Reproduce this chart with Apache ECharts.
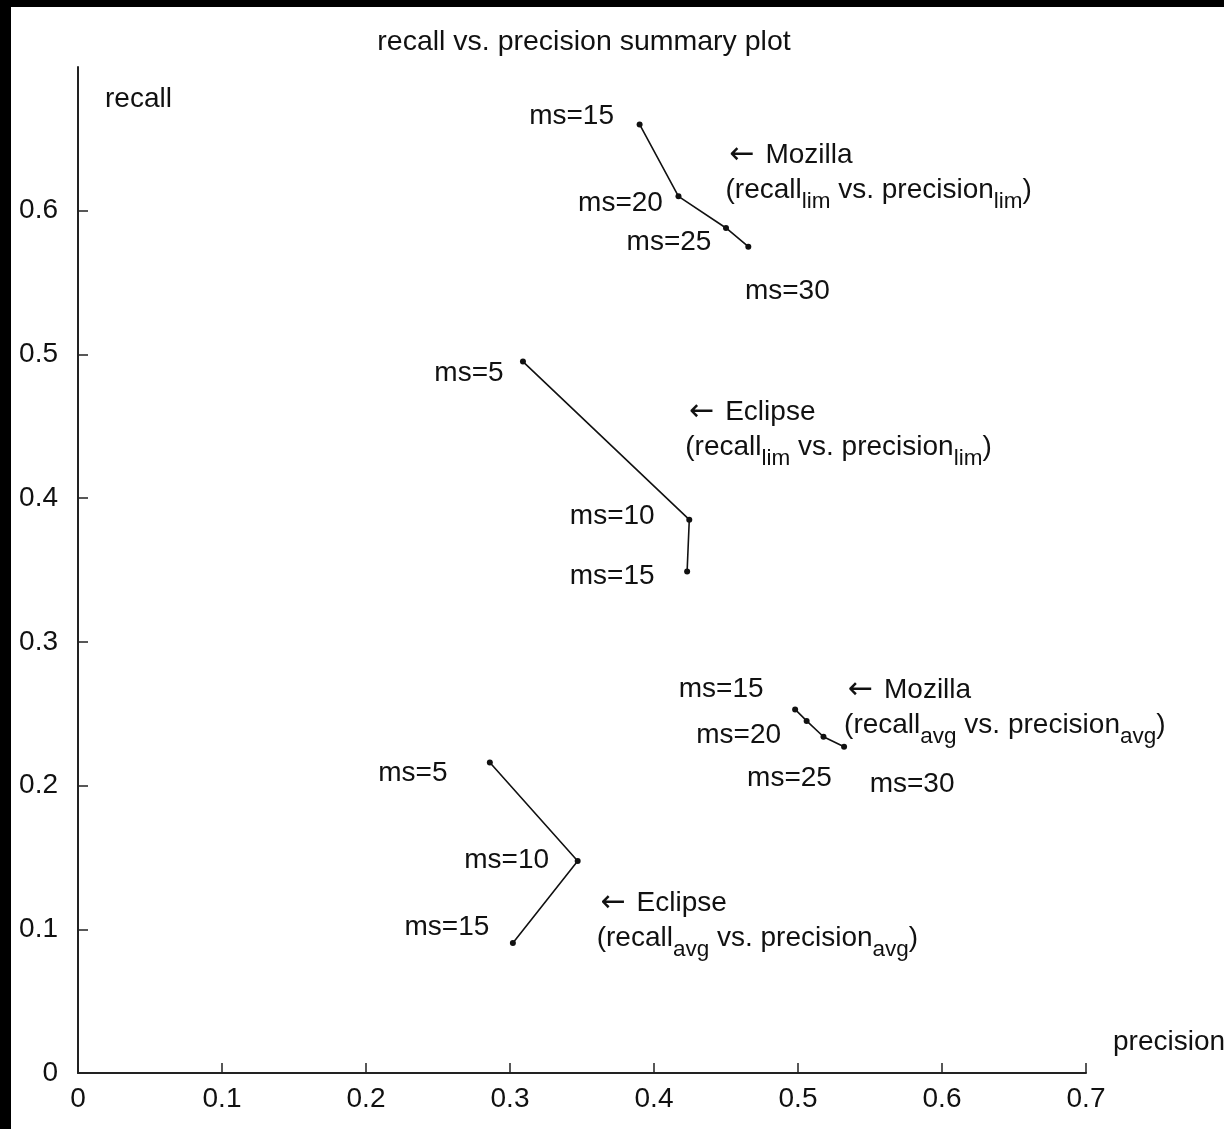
<!DOCTYPE html>
<html>
<head>
<meta charset="utf-8">
<script src="https://cdn.jsdelivr.net/npm/echarts@6/dist/echarts.min.js"></script>
<style>
  html, body { margin: 0; padding: 0; background: #000; }
  #c { position: absolute; left: 11px; top: 7px; width: 1213px; height: 1122px; background: #fff; }
</style>
</head>
<body>
<div id="c"></div>
<script>
// ---------- data ----------
const precisionTicks = [0, 0.1, 0.2, 0.3, 0.4, 0.5, 0.6, 0.7];
const recallTicks = [0, 0.1, 0.2, 0.3, 0.4, 0.5, 0.6];

const mozLimMs = [15, 20, 25, 30];
const mozLimPrecision = [0.390, 0.417, 0.450, 0.4655];
const mozLimRecall = [0.660, 0.610, 0.588, 0.575];

const eclLimMs = [5, 10, 15];
const eclLimPrecision = [0.309, 0.4245, 0.423];
const eclLimRecall = [0.495, 0.385, 0.349];

const mozAvgMs = [15, 20, 25, 30];
const mozAvgPrecision = [0.498, 0.506, 0.5177, 0.532];
const mozAvgRecall = [0.253, 0.245, 0.234, 0.227];

const eclAvgMs = [5, 10, 15];
const eclAvgPrecision = [0.286, 0.347, 0.302];
const eclAvgRecall = [0.216, 0.1475, 0.0905];

// ---------- styling / label placement (pixels) ----------
const FONT = "'Liberation Sans', Arial, Helvetica, sans-serif";
const FS = 28;
const INK = '#111';

const groups = [
  { name: 'Mozilla lim', ms: mozLimMs, x: mozLimPrecision, y: mozLimRecall,
    offsets: [[-68, -8], [-58, 7], [-57, 14], [39, 45]],
    anno: { head: 'Mozilla', sub: 'lim', at: 1, offset: [47, -24] } },
  { name: 'Eclipse lim', ms: eclLimMs, x: eclLimPrecision, y: eclLimRecall,
    offsets: [[-54, 12], [-77, -3], [-75, 5]],
    anno: { head: 'Eclipse', sub: 'lim', at: 1, offset: [-4, -90] } },
  { name: 'Mozilla avg', ms: mozAvgMs, x: mozAvgPrecision, y: mozAvgRecall,
    offsets: [[-74, -20], [-68, 14], [-34, 42], [68, 38]],
    anno: { head: 'Mozilla', sub: 'avg', at: 3, offset: [0, -39] } },
  { name: 'Eclipse avg', ms: eclAvgMs, x: eclAvgPrecision, y: eclAvgRecall,
    offsets: [[-77, 11], [-71, -1], [-66, -16]],
    anno: { head: 'Eclipse', sub: 'avg', at: 1, offset: [19, 60] } }
];

const series = [];
groups.forEach(g => {
  series.push({
    name: g.name,
    type: 'line',
    data: g.x.map((px, i) => ({
      value: [px, g.y[i]],
      label: { offset: g.offsets[i] }
    })),
    symbol: 'circle',
    symbolSize: 6,
    showSymbol: true,
    lineStyle: { color: INK, width: 1.6 },
    itemStyle: { color: INK },
    label: {
      show: true,
      position: 'inside',
      align: 'center',
      verticalAlign: 'middle',
      fontFamily: FONT,
      fontSize: FS,
      color: INK,
      formatter: p => 'ms=' + g.ms[p.dataIndex]
    },
    emphasis: { disabled: true },
    animation: false,
    z: 3
  });
  const a = g.anno;
  series.push({
    name: g.name + ' note',
    type: 'scatter',
    data: [[g.x[a.at], g.y[a.at]]],
    symbolSize: 1,
    itemStyle: { color: 'rgba(0,0,0,0)', opacity: 1 },
    label: {
      show: true,
      position: 'inside',
      align: 'left',
      verticalAlign: 'middle',
      offset: a.offset,
      fontFamily: FONT,
      color: INK,
      opacity: 1,
      formatter: () => '{a|←}{t| ' + a.head + '}\n{u|(recall}{s|' + a.sub + '}{u| vs. precision}{s|' + a.sub + '}{u|)}',
      rich: {
        a: { fontFamily: "'DejaVu Sans', sans-serif", fontSize: 30, lineHeight: 35, color: INK, verticalAlign: 'middle', padding: [0, 3, 0, 4] },
        t: { fontFamily: FONT, fontSize: FS, lineHeight: 35, color: INK, verticalAlign: 'middle' },
        u: { fontFamily: FONT, fontSize: FS, lineHeight: 35, color: INK, verticalAlign: 'middle' },
        s: { fontFamily: FONT, fontSize: 22.5, height: 22, lineHeight: 22, padding: [18, 0, 0, 0], color: INK, verticalAlign: 'top' }
      }
    },
    emphasis: { disabled: true },
    silent: true,
    animation: false,
    z: 4
  });
});

const chart = echarts.init(document.getElementById('c'), null, { renderer: 'canvas' });
chart.setOption({
  backgroundColor: '#fff',
  animation: false,
  title: {
    text: 'recall vs. precision summary plot',
    left: 568,
    top: 16,
    textAlign: 'center',
    textStyle: { fontFamily: FONT, fontSize: 28.5, fontWeight: 'normal', color: INK }
  },
  grid: { left: 67, right: 138, top: 60, bottom: 56, containLabel: false, outerBoundsMode: 'none' },
  xAxis: {
    type: 'value',
    min: 0, max: 0.7, interval: 0.1,
    name: 'precision',
    nameLocation: 'end',
    nameGap: 27,
    nameTextStyle: { fontFamily: FONT, fontSize: FS, color: INK, align: 'left', verticalAlign: 'bottom', padding: [0, 0, 17, 0] },
    axisLine: { show: true, onZero: false, lineStyle: { color: '#222', width: 2 } },
    axisTick: { show: true, inside: true, length: 10, lineStyle: { color: '#222', width: 1.5 } },
    axisLabel: { margin: 12, fontFamily: FONT, fontSize: FS, color: INK, formatter: v => String(v) },
    splitLine: { show: false }
  },
  yAxis: {
    type: 'value',
    min: 0, max: 0.7, interval: 0.1,
    name: 'recall',
    nameLocation: 'end',
    nameGap: -32,
    nameTextStyle: { fontFamily: FONT, fontSize: FS, color: INK, align: 'left', verticalAlign: 'middle', padding: [0, 0, 0, 27] },
    axisLine: { show: true, onZero: false, lineStyle: { color: '#222', width: 2 } },
    axisTick: { show: true, inside: true, length: 10, customValues: recallTicks, lineStyle: { color: '#222', width: 1.5 } },
    axisLabel: { margin: 20, customValues: recallTicks, fontFamily: FONT, fontSize: FS, color: INK, formatter: v => String(v) },
    splitLine: { show: false }
  },
  series: series
});
</script>
</body>
</html>
